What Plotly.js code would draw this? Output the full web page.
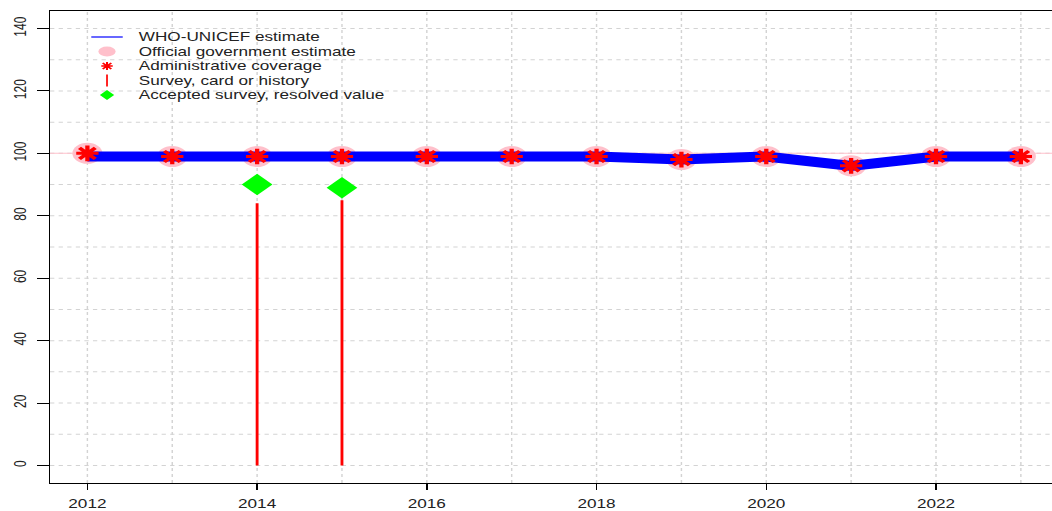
<!DOCTYPE html>
<html>
<head>
<meta charset="utf-8">
<script src="https://cdn.plot.ly/plotly-3.0.1.min.js"></script>
<style>
  html, body { margin: 0; padding: 0; overflow: hidden; background: #fff; width: 1052px; height: 511px; }
  /* the figure is drawn narrow and widened horizontally */
  #chart { width: 742px; height: 511px; transform: scaleX(1.43); transform-origin: 0 0; }
</style>
</head>
<body>
<div id="chart"></div>
<script>
// Coverage by year
const years = [2012, 2013, 2014, 2015, 2016, 2017, 2018, 2019, 2020, 2021, 2022, 2023];
const whoUnicef = [99, 99, 99, 99, 99, 99, 99, 98, 99, 96, 99, 99];
const official = [100, 99, 99, 99, 99, 99, 99, 98, 99, 96, 99, 99];
const administrative = [100, 99, 99, 99, 99, 99, 99, 98, 99, 96, 99, 99];

// Surveys (card or history) and accepted survey values
const surveyYears = [2014, 2015];
const surveyValues = [84, 85];
const acceptedYears = [2014, 2015];
const acceptedValues = [90, 89];

const referenceLevel = 100;

const yTicks = [0, 20, 40, 60, 80, 100, 120, 140];
const xTicks = [2012, 2014, 2016, 2018, 2020, 2022];

const legendLabels = [
  'WHO-UNICEF estimate',
  'Official government estimate',
  'Administrative coverage',
  'Survey, card or history',
  'Accepted survey, resolved value'
];

// vertical survey segments from zero up to each value
const segX = [], segY = [];
surveyYears.forEach((yr, i) => { segX.push(yr, yr, null); segY.push(0, surveyValues[i], null); });

const fontFamily = 'Liberation Sans, Arial, sans-serif';
const textColor = '#222';

const traces = [
  { x: years, y: official, mode: 'markers', name: legendLabels[1], showlegend: false,
    marker: { color: 'pink', size: 21, line: { width: 0 } } },
  { x: years, y: whoUnicef, mode: 'lines', name: legendLabels[0], showlegend: false,
    line: { color: 'blue', width: 10 } },
  { x: years, y: administrative, mode: 'markers', name: legendLabels[2], showlegend: false,
    marker: { symbol: 'asterisk-open', color: 'red', size: 13, line: { color: 'red', width: 3 } } },
  { x: segX, y: segY, mode: 'lines', name: legendLabels[3], showlegend: false,
    line: { color: 'red', width: 2 } },
  { x: acceptedYears, y: acceptedValues, mode: 'markers', name: legendLabels[4], showlegend: false,
    marker: { symbol: 'diamond', color: '#00ff00', size: 16.5, line: { width: 0 } } }
];

const plotTop = 11, plotBottom = 483;
const layout = {
  width: 742, height: 511,
  margin: { l: 35, r: 2, t: plotTop, b: 511 - plotBottom },
  paper_bgcolor: '#fff', plot_bgcolor: '#fff',
  font: { family: fontFamily, size: 12, color: textColor },
  showlegend: false,
  xaxis: {
    range: [2011.56, 2023.44],
    tickvals: xTicks, ticktext: xTicks.map(String),
    ticks: 'outside', ticklen: 6, tickcolor: '#000', tickwidth: 1,
    showline: true, linecolor: '#000', linewidth: 1, mirror: true,
    showgrid: false, zeroline: false,
    ticklabelstandoff: 4,
    tickfont: { family: fontFamily, size: 12, color: textColor }
  },
  yaxis: {
    range: [-5.6, 145.6],
    tickvals: yTicks, ticktext: yTicks.map(String),
    tickangle: -90,
    ticks: 'outside', ticklen: 8, tickcolor: '#000', tickwidth: 1,
    showline: true, linecolor: '#000', linewidth: 1, mirror: true,
    showgrid: false, zeroline: false,
    ticklabelstandoff: 3,
    tickfont: { family: fontFamily, size: 12, color: textColor }
  },
  shapes: [],
  annotations: []
};

const gridStyle = { color: '#d3d3d3', width: 1, dash: 'dot' };
// dotted grid: every year, every 10 units
for (let yr = 2012; yr <= 2023; yr++) {
  layout.shapes.push({ type: 'line', xref: 'x', yref: 'paper', x0: yr, x1: yr, y0: 0, y1: 1,
    line: gridStyle, layer: 'below' });
}
for (let v = 0; v <= 140; v += 10) {
  layout.shapes.push({ type: 'line', xref: 'paper', yref: 'y', x0: 0, x1: 1, y0: v, y1: v,
    line: gridStyle, layer: 'below' });
}
// thin reference line
layout.shapes.push({ type: 'line', xref: 'paper', yref: 'y', x0: 0, x1: 1, y0: referenceLevel, y1: referenceLevel,
  line: { color: 'pink', width: 1 }, layer: 'below' });

// hand-built legend: keys as pixel-sized shapes, labels as annotations
const plotH = plotBottom - plotTop;
const rowPx = [37, 51.5, 66, 80.5, 95];
const keyX = 0.0565, textX = 0.0845;
const rowY = rowPx.map(p => 1 - (p - plotTop) / plotH);
const pix = (yPaper, extra) => Object.assign({ xref: 'paper', yref: 'paper', xsizemode: 'pixel', ysizemode: 'pixel',
  xanchor: keyX, yanchor: yPaper, layer: 'above' }, extra);

layout.shapes.push(pix(rowY[0], { type: 'line', x0: -11, x1: 11, y0: 0, y1: 0, line: { color: 'blue', width: 1.2 } }));
layout.shapes.push(pix(rowY[1], { type: 'circle', x0: -6, x1: 6, y0: -5, y1: 5, fillcolor: 'pink', line: { width: 0 } }));
layout.shapes.push(pix(rowY[2], { type: 'path',
  path: 'M-4,0H4M0,-4V4M-3,-3L3,3M-3,3L3,-3', line: { color: 'red', width: 1.4 } }));
layout.shapes.push(pix(rowY[3], { type: 'line', x0: 0, x1: 0, y0: -6, y1: 6, line: { color: 'red', width: 1.2 } }));
layout.shapes.push(pix(rowY[4], { type: 'path', path: 'M-5,0L0,5L5,0L0,-5Z', fillcolor: '#00ff00', line: { width: 0 } }));

legendLabels.forEach((label, i) => {
  layout.annotations.push({ xref: 'paper', yref: 'paper', x: textX, y: rowY[i], xanchor: 'left', yanchor: 'middle',
    text: label, showarrow: false, font: { family: fontFamily, size: 12, color: textColor } });
});

Plotly.newPlot('chart', traces, layout, { displayModeBar: false, staticPlot: true });
</script>
</body>
</html>
